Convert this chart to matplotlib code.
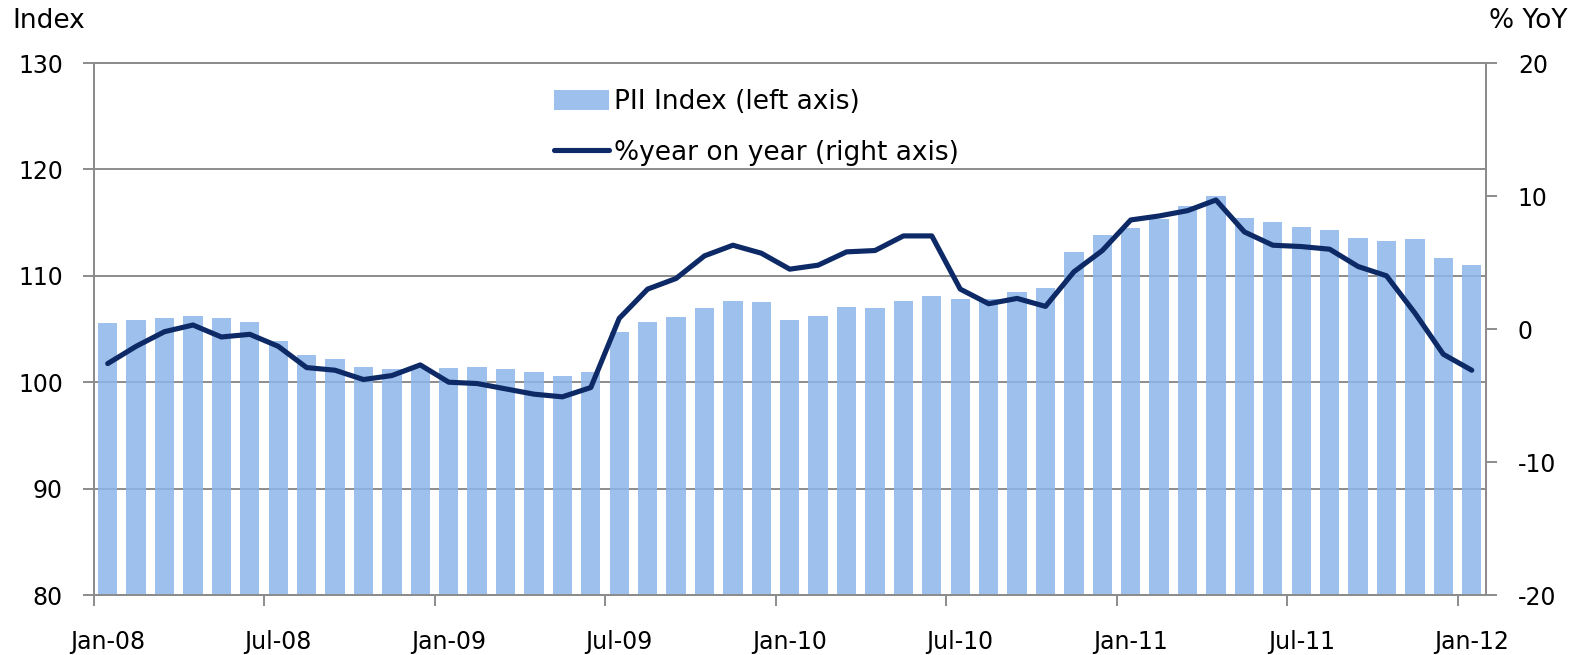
import matplotlib.pyplot as plt
import numpy as np

plt.rcParams['font.family'] = ['DejaVu Sans']
plt.rcParams['axes.unicode_minus'] = False

# monthly, Jan-08 .. Jan-12
months = ["Jan-08", "Feb-08", "Mar-08", "Apr-08", "May-08", "Jun-08",
          "Jul-08", "Aug-08", "Sep-08", "Oct-08", "Nov-08", "Dec-08",
          "Jan-09", "Feb-09", "Mar-09", "Apr-09", "May-09", "Jun-09",
          "Jul-09", "Aug-09", "Sep-09", "Oct-09", "Nov-09", "Dec-09",
          "Jan-10", "Feb-10", "Mar-10", "Apr-10", "May-10", "Jun-10",
          "Jul-10", "Aug-10", "Sep-10", "Oct-10", "Nov-10", "Dec-10",
          "Jan-11", "Feb-11", "Mar-11", "Apr-11", "May-11", "Jun-11",
          "Jul-11", "Aug-11", "Sep-11", "Oct-11", "Nov-11", "Dec-11",
          "Jan-12"]

pii_index = [105.6, 105.8, 106.0, 106.2, 106.0, 105.7, 103.9, 102.6, 102.2,
             101.4, 101.2, 101.3, 101.3, 101.4, 101.2, 101.0, 100.6, 101.0,
             104.7, 105.7, 106.1, 107.0, 107.6, 107.5, 105.8, 106.2, 107.1,
             107.0, 107.6, 108.1, 107.8, 107.8, 108.5, 108.9, 112.2, 113.8,
             114.5, 115.3, 116.6, 117.5, 115.4, 115.1, 114.6, 114.3, 113.6,
             113.3, 113.5, 111.7, 111.0]

yoy = [-2.6, -1.3, -0.2, 0.3, -0.6, -0.4, -1.3, -2.9, -3.1, -3.8, -3.5, -2.7,
       -4.0, -4.1, -4.5, -4.9, -5.1, -4.4, 0.8, 3.0, 3.8, 5.5, 6.3, 5.7, 4.5,
       4.8, 5.8, 5.9, 7.0, 7.0, 3.0, 1.9, 2.3, 1.7, 4.3, 5.9, 8.2, 8.5, 8.9,
       9.7, 7.3, 6.3, 6.2, 6.0, 4.7, 4.0, 1.2, -1.9, -3.1]

label_every = 6
grey = '#8c8c8c'

fig = plt.figure(figsize=(15.93, 6.55), dpi=100)
ax = fig.add_axes([0.0587, 0.0916, 0.8741, 0.8122])
x = np.arange(len(months))

ax.bar(x, pii_index, width=0.68, color='#8cb5e9', alpha=0.85, zorder=2,
       label='PII Index (left axis)')
ax.set_ylim(80, 130)
ax.set_yticks(range(80, 131, 10))
ax.set_xlim(-0.5, len(months) - 0.5)
ax.yaxis.grid(True, color=grey, lw=1.4, zorder=1)
ax.set_axisbelow(True)

# ticks on category boundaries, labels centred on the categories
ax.set_xticks(x[::label_every] - 0.5)
ax.set_xticklabels([])
ax.set_xticks(x[::label_every], minor=True)
ax.set_xticklabels(months[::label_every], minor=True)
ax.tick_params(axis='x', which='major', length=8, width=1.4, color=grey)
ax.tick_params(axis='x', which='minor', length=0, pad=25, labelsize=17)
ax.tick_params(axis='y', length=8, width=1.4, color=grey, pad=14, labelsize=17)

ax2 = ax.twinx()
ax2.plot(x, yoy, color='#0d2a66', lw=3.7, solid_capstyle='round',
         solid_joinstyle='round', label='%year on year (right axis)')
ax2.set_ylim(-20, 20)
ax2.set_yticks(range(-20, 21, 10))
ax2.tick_params(axis='y', length=8, width=1.4, color=grey, pad=15, labelsize=17)

for a in (ax, ax2):
    for s in a.spines.values():
        s.set_color(grey)
        s.set_linewidth(1.4)

h1, l1 = ax.get_legend_handles_labels()
h2, l2 = ax2.get_legend_handles_labels()
ax2.legend(h1 + h2, l1 + l2, loc='upper left', bbox_to_anchor=(0.331, 0.951),
           frameon=False, fontsize=19, borderpad=0, borderaxespad=0,
           handlelength=2.05, handleheight=0.83, handletextpad=0.2,
           labelspacing=0.95)

fig.text(12 / 1593, 1 - 21 / 655, 'Index', fontsize=19, va='center', ha='left')
fig.text(1489 / 1593, 1 - 21 / 655, '% YoY', fontsize=19, va='center', ha='left')

fig.savefig('out.png', dpi=100)
